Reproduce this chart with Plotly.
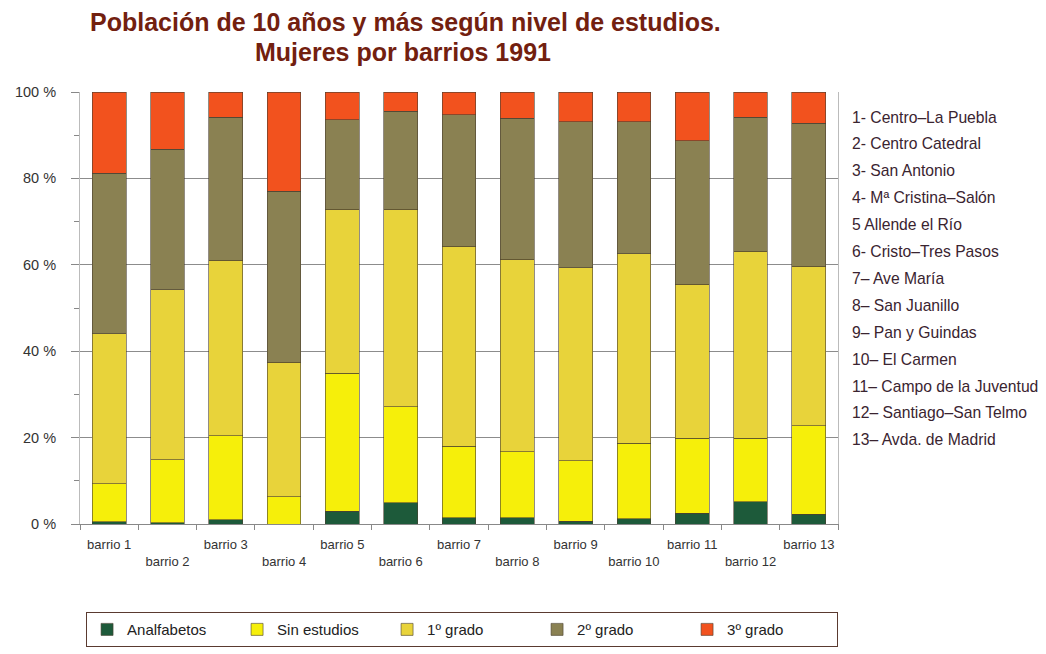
import plotly.graph_objects as go

barrios = ['barrio 1', 'barrio 2', 'barrio 3', 'barrio 4', 'barrio 5', 'barrio 6', 'barrio 7',
           'barrio 8', 'barrio 9', 'barrio 10', 'barrio 11', 'barrio 12', 'barrio 13']

# percentages (stacked, each barrio sums to 100)
analfabetos = [0.5, 0.3, 1.0, 0.0, 2.9, 4.9, 1.5, 1.4, 0.6, 1.2, 2.5, 5.2, 2.3]
sin_estudios = [8.8, 14.6, 19.4, 6.3, 32.0, 22.3, 16.5, 15.3, 14.0, 17.5, 17.3, 14.6, 20.4]
grado_1 = [34.7, 39.3, 40.6, 31.2, 38.0, 45.7, 46.3, 44.6, 44.7, 43.9, 35.7, 43.3, 37.0]
grado_2 = [37.2, 32.6, 33.2, 39.5, 20.7, 22.6, 30.4, 32.6, 33.8, 30.5, 33.2, 31.0, 33.1]
grado_3 = [18.8, 13.2, 5.8, 23.0, 6.4, 4.5, 5.3, 6.1, 6.9, 6.9, 11.3, 5.9, 7.2]

nombres = ['1- Centro–La Puebla', '2- Centro Catedral', '3- San Antonio', '4- Mª Cristina–Salón',
           '5 Allende el Río', '6- Cristo–Tres Pasos', '7– Ave María', '8– San Juanillo',
           '9– Pan y Guindas', '10– El Carmen', '11– Campo de la Juventud',
           '12– Santiago–San Telmo', '13– Avda. de Madrid']

series = [
    ('Analfabetos', analfabetos, '#1d5a3a'),
    ('Sin estudios', sin_estudios, '#f6ef0a'),
    ('1º grado', grado_1, '#e8d33a'),
    ('2º grado', grado_2, '#8a8152'),
    ('3º grado', grado_3, '#f2521e'),
]

fig = go.Figure()
for name, vals, col in series:
    fig.add_trace(go.Bar(x=barrios, y=vals, name=name, marker_color=col,
                         marker_line=dict(color='#4a4030', width=0.6)))

# odd labels on the first row, even labels pushed to a second row
ticktext = [b if i % 2 == 0 else '<br>' + b for i, b in enumerate(barrios)]

# the page body adds an 8px margin, so the figure is 8px smaller and shifted
fig.update_layout(
    barmode='stack',
    bargap=0.42,
    width=1038, height=646,
    margin=dict(l=72, r=208, t=84, b=130, autoexpand=False),
    paper_bgcolor='white', plot_bgcolor='white',
    font=dict(family='Liberation Sans, Arial', size=12, color='#333333'),
    legend=dict(orientation='h', x=0.008, xanchor='left', y=-0.204, yanchor='top',
                bordercolor='#5a3a30', borderwidth=1, entrywidth=105, entrywidthmode='pixels',
                font=dict(size=15, color='#222222'), traceorder='normal'),
)

title_font = dict(family='Liberation Sans, Arial', size=25, color='#72200f')
fig.add_annotation(text='<b>Población de 10 años y más según nivel de estudios.</b>',
                   xref='paper', yref='paper', x=(405 - 80) / 758, y=(524 - 22) / 432,
                   xanchor='center', yanchor='middle', showarrow=False, font=title_font)
fig.add_annotation(text='<b>Mujeres por barrios 1991</b>',
                   xref='paper', yref='paper', x=(403 - 80) / 758, y=(524 - 52) / 432,
                   xanchor='center', yanchor='middle', showarrow=False, font=title_font)

fig.update_xaxes(tickvals=barrios, ticktext=ticktext, tickfont=dict(size=13), tickangle=0,
                 ticks='outside', tickson='boundaries', ticklen=5, tickcolor='#888888',
                 ticklabelstandoff=8,
                 showline=True, linecolor='#888888', linewidth=1, range=[-0.5, 12.5])
fig.update_yaxes(range=[0, 100], tickvals=[0, 20, 40, 60, 80, 100],
                 ticktext=['0 %', '20 %', '40 %', '60 %', '80 %', '100 %'],
                 tickfont=dict(size=14.5),
                 ticks='outside', ticklen=8, tickcolor='#888888', ticklabelstandoff=12,
                 minor=dict(dtick=10, ticks='outside', ticklen=5, tickcolor='#888888', showgrid=False),
                 showgrid=True, gridcolor='#8c8c8c', gridwidth=1,
                 showline=True, linecolor='#bbbbbb', linewidth=1, mirror=True, zeroline=False)

for i, n in enumerate(nombres):
    fig.add_annotation(text=n, xref='paper', yref='paper', x=(850 - 80) / 758, xanchor='left',
                       y=(524 - (117 + i * 26.9)) / 432, yanchor='middle', showarrow=False,
                       font=dict(family='Liberation Sans, Arial', size=15.7, color='#3a2430'))

fig.write_html('out.html')
